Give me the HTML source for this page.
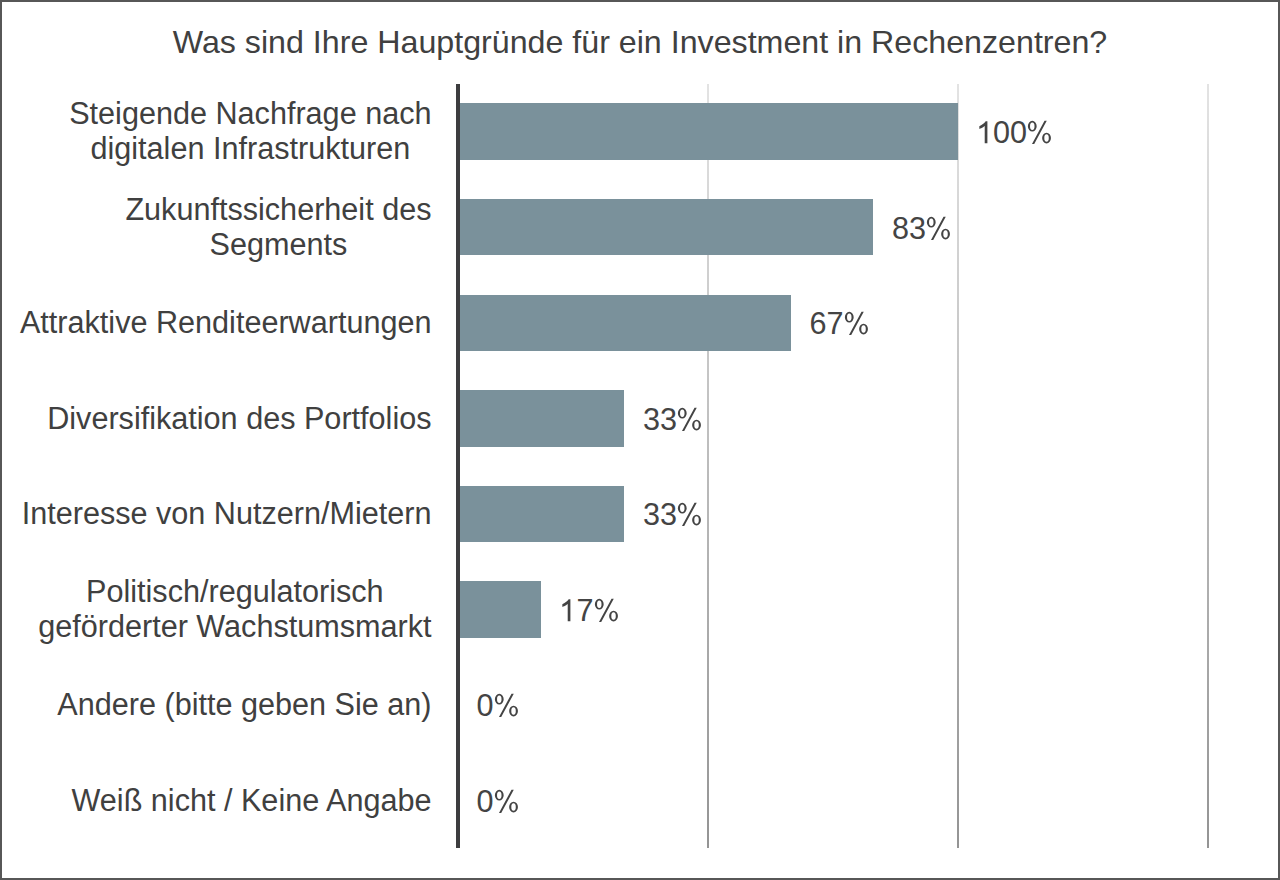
<!DOCTYPE html>
<html><head><meta charset="utf-8">
<style>
html,body{margin:0;padding:0;}
body{width:1280px;height:880px;position:relative;overflow:hidden;background:#fff;font-family:"Liberation Sans",sans-serif;color:#404040;}
.frame{position:absolute;left:0;top:0;width:1280px;height:880px;box-sizing:border-box;border:2px solid #575757;}
.title{position:absolute;left:0;width:1280px;top:24px;text-align:center;font-size:32.2px;line-height:37px;white-space:nowrap;}
.axis{position:absolute;left:456px;top:84px;width:4px;height:764px;background:#3d3d3f;}
.grid{position:absolute;top:84px;width:2px;height:764px;background:linear-gradient(#e3e3e3,#949494);}
.bar{position:absolute;left:460px;background:#7a919b;}
.cat{position:absolute;right:848.5px;margin-top:-0.5px;text-align:center;font-size:30.6px;line-height:34.9px;white-space:nowrap;transform:translateY(-50%);}
.val{position:absolute;margin-top:0.5px;color:#444;font-size:30.6px;line-height:35px;white-space:nowrap;transform:translateY(-50%);}
.one,.pc{position:relative;color:transparent;}
.pc svg{position:absolute;left:-0.8px;top:0.9px;width:0.8892em;height:1.1172em;fill:#444;overflow:visible;}
.one svg{position:absolute;left:-0.5px;top:0.9px;width:0.5562em;height:1.1172em;fill:#444;overflow:visible;}
</style></head>
<body>
<div class="frame"></div>
<div class="title">Was sind Ihre Hauptgründe für ein Investment in Rechenzentren?</div>
<div class="grid" style="left:707px"></div>
<div class="grid" style="left:957px"></div>
<div class="grid" style="left:1207px"></div>

<div class="bar" style="top:103px;height:57px;width:497.5px"></div>
<div class="bar" style="top:199px;height:56px;width:413px"></div>
<div class="bar" style="top:295px;height:56px;width:331px"></div>
<div class="bar" style="top:390px;height:57px;width:163.5px"></div>
<div class="bar" style="top:486px;height:56px;width:163.5px"></div>
<div class="bar" style="top:581px;height:57px;width:81px"></div>

<div class="axis"></div>

<div class="cat" style="top:131.75px">Steigende Nachfrage nach<br>digitalen Infrastrukturen</div>
<div class="cat" style="top:227.25px">Zukunftssicherheit des<br>Segments</div>
<div class="cat" style="top:322.75px">Attraktive Renditeerwartungen</div>
<div class="cat" style="top:418.25px">Diversifikation des Portfolios</div>
<div class="cat" style="top:513.75px">Interesse von Nutzern/Mietern</div>
<div class="cat" style="top:609.25px">Politisch/regulatorisch<br>geförderter Wachstumsmarkt</div>
<div class="cat" style="top:704.75px">Andere (bitte geben Sie an)</div>
<div class="cat" style="top:800.25px">Weiß nicht / Keine Angabe</div>

<div class="val" style="left:976.0px;top:131.75px"><span class="one">1<svg viewBox="0 -1854 1139 2288"><path transform="scale(1,-1)" d="M763 0H583V1146C555 1119 518 1092 472 1065C426 1038 385 1018 348 1004C311 990 262 970 223 958V1132C323 1176 410 1231 486 1296C562 1361 616 1420 647 1466H763Z"/></svg></span>00<span class="pc">%<svg viewBox="0 -1854 1821 2288"><path fill-rule="evenodd" transform="scale(1,-1)" d="M125 1135A295 360 0 1 0 715 1135A295 360 0 1 0 125 1135ZM270 1135A150 250 0 1 0 570 1135A150 250 0 1 0 270 1135ZM1080 345A295 360 0 1 0 1670 345A295 360 0 1 0 1080 345ZM1225 345A150 250 0 1 0 1525 345A150 250 0 1 0 1225 345ZM400 -58H550L1390 1500H1240Z"/></svg></span></div>
<div class="val" style="left:892.0px;top:227.25px">83<span class="pc">%<svg viewBox="0 -1854 1821 2288"><path fill-rule="evenodd" transform="scale(1,-1)" d="M125 1135A295 360 0 1 0 715 1135A295 360 0 1 0 125 1135ZM270 1135A150 250 0 1 0 570 1135A150 250 0 1 0 270 1135ZM1080 345A295 360 0 1 0 1670 345A295 360 0 1 0 1080 345ZM1225 345A150 250 0 1 0 1525 345A150 250 0 1 0 1225 345ZM400 -58H550L1390 1500H1240Z"/></svg></span></div>
<div class="val" style="left:809.5px;top:322.75px">67<span class="pc">%<svg viewBox="0 -1854 1821 2288"><path fill-rule="evenodd" transform="scale(1,-1)" d="M125 1135A295 360 0 1 0 715 1135A295 360 0 1 0 125 1135ZM270 1135A150 250 0 1 0 570 1135A150 250 0 1 0 270 1135ZM1080 345A295 360 0 1 0 1670 345A295 360 0 1 0 1080 345ZM1225 345A150 250 0 1 0 1525 345A150 250 0 1 0 1225 345ZM400 -58H550L1390 1500H1240Z"/></svg></span></div>
<div class="val" style="left:643.0px;top:418.25px">33<span class="pc">%<svg viewBox="0 -1854 1821 2288"><path fill-rule="evenodd" transform="scale(1,-1)" d="M125 1135A295 360 0 1 0 715 1135A295 360 0 1 0 125 1135ZM270 1135A150 250 0 1 0 570 1135A150 250 0 1 0 270 1135ZM1080 345A295 360 0 1 0 1670 345A295 360 0 1 0 1080 345ZM1225 345A150 250 0 1 0 1525 345A150 250 0 1 0 1225 345ZM400 -58H550L1390 1500H1240Z"/></svg></span></div>
<div class="val" style="left:643.0px;top:513.75px">33<span class="pc">%<svg viewBox="0 -1854 1821 2288"><path fill-rule="evenodd" transform="scale(1,-1)" d="M125 1135A295 360 0 1 0 715 1135A295 360 0 1 0 125 1135ZM270 1135A150 250 0 1 0 570 1135A150 250 0 1 0 270 1135ZM1080 345A295 360 0 1 0 1670 345A295 360 0 1 0 1080 345ZM1225 345A150 250 0 1 0 1525 345A150 250 0 1 0 1225 345ZM400 -58H550L1390 1500H1240Z"/></svg></span></div>
<div class="val" style="left:559.5px;top:609.25px"><span class="one">1<svg viewBox="0 -1854 1139 2288"><path transform="scale(1,-1)" d="M763 0H583V1146C555 1119 518 1092 472 1065C426 1038 385 1018 348 1004C311 990 262 970 223 958V1132C323 1176 410 1231 486 1296C562 1361 616 1420 647 1466H763Z"/></svg></span>7<span class="pc">%<svg viewBox="0 -1854 1821 2288"><path fill-rule="evenodd" transform="scale(1,-1)" d="M125 1135A295 360 0 1 0 715 1135A295 360 0 1 0 125 1135ZM270 1135A150 250 0 1 0 570 1135A150 250 0 1 0 270 1135ZM1080 345A295 360 0 1 0 1670 345A295 360 0 1 0 1080 345ZM1225 345A150 250 0 1 0 1525 345A150 250 0 1 0 1225 345ZM400 -58H550L1390 1500H1240Z"/></svg></span></div>
<div class="val" style="left:476.5px;top:704.75px">0<span class="pc">%<svg viewBox="0 -1854 1821 2288"><path fill-rule="evenodd" transform="scale(1,-1)" d="M125 1135A295 360 0 1 0 715 1135A295 360 0 1 0 125 1135ZM270 1135A150 250 0 1 0 570 1135A150 250 0 1 0 270 1135ZM1080 345A295 360 0 1 0 1670 345A295 360 0 1 0 1080 345ZM1225 345A150 250 0 1 0 1525 345A150 250 0 1 0 1225 345ZM400 -58H550L1390 1500H1240Z"/></svg></span></div>
<div class="val" style="left:476.5px;top:800.25px">0<span class="pc">%<svg viewBox="0 -1854 1821 2288"><path fill-rule="evenodd" transform="scale(1,-1)" d="M125 1135A295 360 0 1 0 715 1135A295 360 0 1 0 125 1135ZM270 1135A150 250 0 1 0 570 1135A150 250 0 1 0 270 1135ZM1080 345A295 360 0 1 0 1670 345A295 360 0 1 0 1080 345ZM1225 345A150 250 0 1 0 1525 345A150 250 0 1 0 1225 345ZM400 -58H550L1390 1500H1240Z"/></svg></span></div>
</body></html>
